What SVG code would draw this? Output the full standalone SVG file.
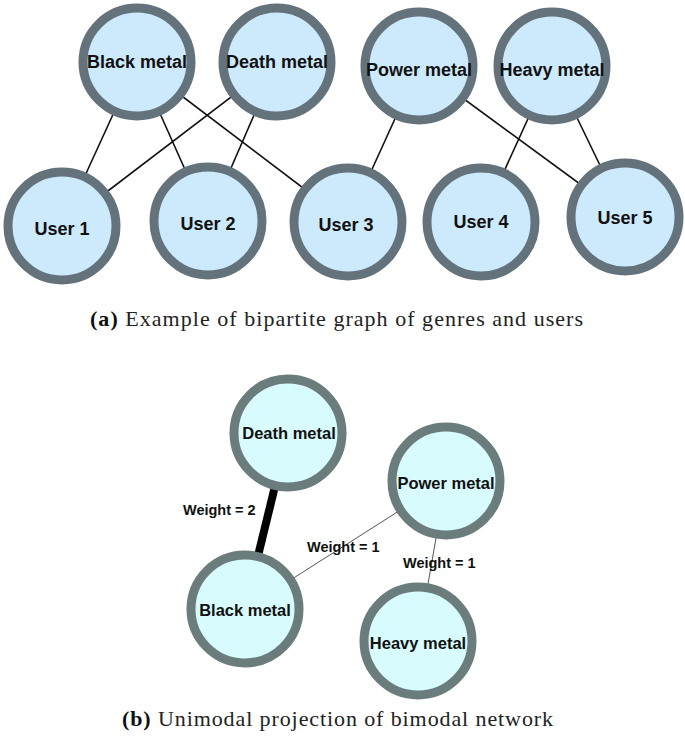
<svg xmlns="http://www.w3.org/2000/svg" width="685" height="737" viewBox="0 0 685 737">
<style>
.na circle{fill:#cdeafc;stroke:#64737b;stroke-width:9}
.nb circle{fill:#d8fbfd;stroke:#6b7c7c;stroke-width:9}
.na text{font-family:"Liberation Sans",Arial,sans-serif;font-weight:bold;font-size:18px;fill:#111;text-anchor:middle;dominant-baseline:central}
.nb text{font-family:"Liberation Sans",Arial,sans-serif;font-weight:bold;font-size:16.5px;fill:#111;text-anchor:middle;dominant-baseline:central}
.ea{stroke:#111;stroke-width:1.6;fill:none}
.eb{stroke:#555;stroke-width:1;fill:none}
.wl{font-family:"Liberation Sans",Arial,sans-serif;font-weight:bold;font-size:14.5px;fill:#111;dominant-baseline:central}
.cap{font-family:"Liberation Serif","Times New Roman",serif;font-size:22px;fill:#222;dominant-baseline:central}
.cap tspan.b{font-weight:bold;fill:#111}
</style>
<rect width="685" height="737" fill="#fff"/>
<g id="edges-a">
<line class="ea" x1="137" y1="62" x2="62" y2="226"/>
<line class="ea" x1="137" y1="62" x2="208" y2="221"/>
<line class="ea" x1="137" y1="62" x2="348" y2="222"/>
<line class="ea" x1="277" y1="62" x2="62" y2="226"/>
<line class="ea" x1="277" y1="62" x2="208" y2="221"/>
<line class="ea" x1="419" y1="66" x2="348" y2="222"/>
<line class="ea" x1="419" y1="66" x2="625" y2="217"/>
<line class="ea" x1="552" y1="66" x2="481" y2="222"/>
<line class="ea" x1="552" y1="66" x2="625" y2="217"/>
</g>
<g id="a-black" class="na"><circle cx="137" cy="62" r="54"/><text x="137" y="62">Black metal</text></g>
<g id="a-death" class="na"><circle cx="277" cy="62" r="54"/><text x="277" y="62">Death metal</text></g>
<g id="a-power" class="na"><circle cx="419" cy="66" r="54"/><text x="419" y="70">Power metal</text></g>
<g id="a-heavy" class="na"><circle cx="552" cy="66" r="54"/><text x="552" y="70">Heavy metal</text></g>
<g id="a-user1" class="na"><circle cx="62" cy="226" r="54"/><text x="62" y="229">User 1</text></g>
<g id="a-user2" class="na"><circle cx="208" cy="221" r="54"/><text x="208" y="224">User 2</text></g>
<g id="a-user3" class="na"><circle cx="348" cy="222" r="54"/><text x="346" y="225">User 3</text></g>
<g id="a-user4" class="na"><circle cx="481" cy="222" r="54"/><text x="481" y="222">User 4</text></g>
<g id="a-user5" class="na"><circle cx="625" cy="217" r="54"/><text x="625" y="218">User 5</text></g>
<text class="cap" x="90" y="318" textLength="493" lengthAdjust="spacing"><tspan class="b">(a)</tspan> Example of bipartite graph of genres and users</text>
<g id="edges-b">
<line x1="288" y1="433" x2="245" y2="609" stroke="#000" stroke-width="8"/>
<line class="eb" x1="245" y1="609" x2="446" y2="481"/>
<line class="eb" x1="446" y1="481" x2="418" y2="641"/>
<text class="wl" x="183" y="510">Weight = 2</text>
<text class="wl" x="307" y="547">Weight = 1</text>
<text class="wl" x="403" y="563">Weight = 1</text>
</g>
<g id="b-death" class="nb"><circle cx="288" cy="433" r="54"/><text x="289" y="433">Death metal</text></g>
<g id="b-power" class="nb"><circle cx="446" cy="481" r="54"/><text x="446" y="483">Power metal</text></g>
<g id="b-black" class="nb"><circle cx="245" cy="609" r="54"/><text x="245" y="610">Black metal</text></g>
<g id="b-heavy" class="nb"><circle cx="418" cy="641" r="54"/><text x="418" y="643">Heavy metal</text></g>
<text class="cap" x="122" y="718" textLength="431" lengthAdjust="spacing"><tspan class="b">(b)</tspan> Unimodal projection of bimodal network</text>
</svg>
